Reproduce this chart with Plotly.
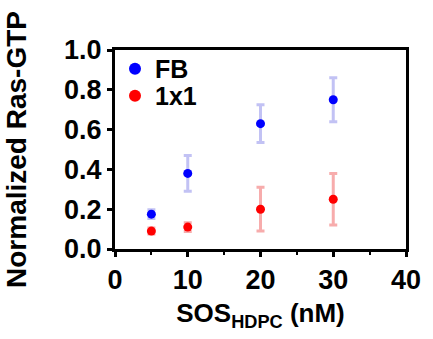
import plotly.graph_objects as go

x_vals = [5, 10, 20, 30]
fb_y = [0.175, 0.38, 0.63, 0.75]
fb_err = [0.022, 0.09, 0.095, 0.11]
b1_y = [0.09, 0.11, 0.20, 0.25]
b1_err = [0.015, 0.022, 0.11, 0.13]
x_ticks = [0, 10, 20, 30, 40]
x_minor = [5, 15, 25, 35]
y_ticks = [0, 0.2, 0.4, 0.6, 0.8, 1.0]

font_family = "Liberation Sans, Arial, sans-serif"

fig = go.Figure()
fig.add_trace(go.Scatter(
    x=x_vals, y=fb_y, mode="markers", name="<b>FB</b>", legend="legend",
    marker=dict(color="#0000ff", size=9),
    error_y=dict(type="data", array=fb_err, color="rgba(120,120,230,0.45)", thickness=3, width=4),
))
fig.add_trace(go.Scatter(
    x=x_vals, y=b1_y, mode="markers", name="<b>1x1</b>", legend="legend2",
    marker=dict(color="#ff0000", size=9),
    error_y=dict(type="data", array=b1_err, color="rgba(240,90,90,0.5)", thickness=3, width=4),
))

leg_common = dict(x=0.0, xanchor="left", yanchor="middle",
                  bgcolor="rgba(0,0,0,0)", font=dict(size=25, family=font_family, color="black"),
                  itemsizing="constant", tracegroupgap=0)

fig.update_layout(
    width=433, height=339,
    margin=dict(l=115, r=19, t=50, b=90),
    plot_bgcolor="white", paper_bgcolor="white",
    font=dict(family=font_family, color="black", size=24),
    showlegend=True,
    legend=dict(y=0.905, **leg_common),
    legend2=dict(y=0.769, **leg_common),
    xaxis=dict(
        range=[0, 40], tickvals=x_ticks,
        tickfont=dict(size=27, family=font_family, color="black", weight="bold"),
        ticks="outside", ticklen=5, tickwidth=3, tickcolor="black",
        minor=dict(tickvals=x_minor, ticks="outside", ticklen=3, tickwidth=2, tickcolor="black"),
        showline=True, linewidth=3, linecolor="black", mirror=True,
        showgrid=False, zeroline=False,
        title=dict(text="<b>SOS<sub>HDPC</sub> (nM)</b>", font=dict(size=26, family=font_family, color="black"), standoff=10),
    ),
    yaxis=dict(
        range=[0, 1.0], tickvals=y_ticks, tickformat=".1f",
        tickfont=dict(size=27, family=font_family, color="black", weight="bold"),
        ticks="outside", ticklen=5, tickwidth=3, tickcolor="black",
        showline=True, linewidth=3, linecolor="black", mirror=True,
        showgrid=False, zeroline=False,
        title=dict(text="<b>Normalized Ras-GTP</b>", font=dict(size=28, family=font_family, color="black"), standoff=30),
    ),
)

fig.write_html("out.html")
